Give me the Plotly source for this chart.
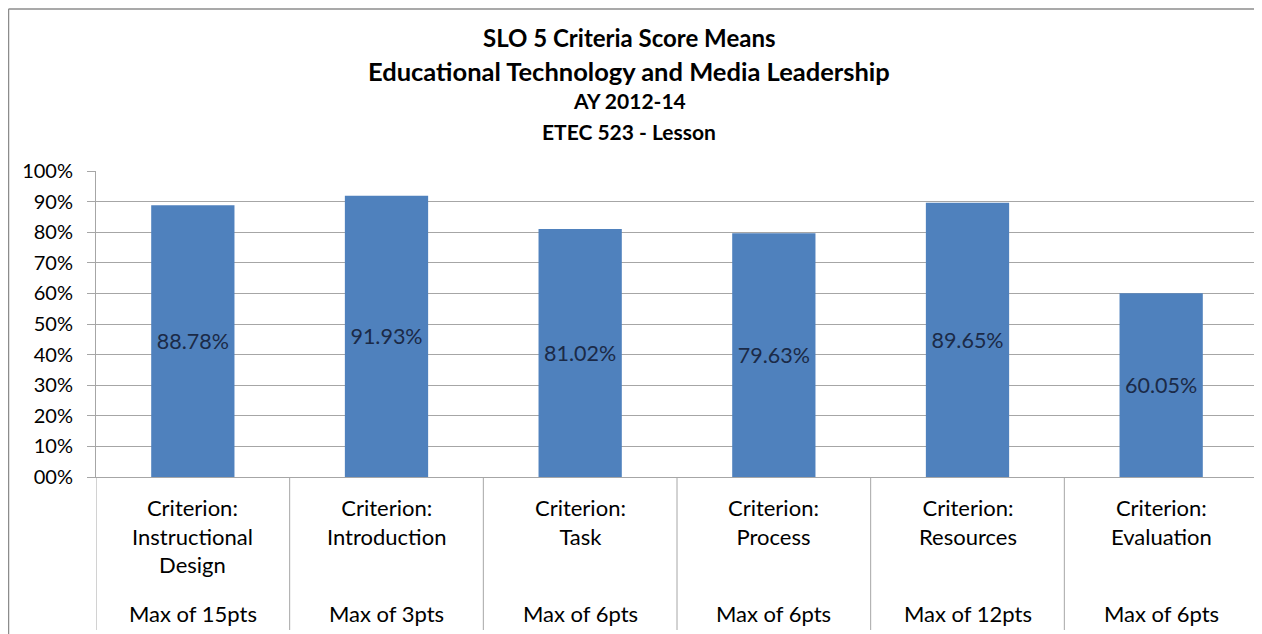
import plotly.graph_objects as go

categories = ["Instructional Design", "Introduction", "Task", "Process", "Resources", "Evaluation"]
criterion_labels = ["Criterion:<br>Instructional<br>Design", "Criterion:<br>Introduction", "Criterion:<br>Task",
                    "Criterion:<br>Process", "Criterion:<br>Resources", "Criterion:<br>Evaluation"]
max_labels = ["Max of 15pts", "Max of 3pts", "Max of 6pts", "Max of 6pts", "Max of 12pts", "Max of 6pts"]
means = [0.8878, 0.9193, 0.8102, 0.7963, 0.8965, 0.6005]
value_labels = ["88.78%", "91.93%", "81.02%", "79.63%", "89.65%", "60.05%"]
tick_vals = [0, 0.1, 0.2, 0.3, 0.4, 0.5, 0.6, 0.7, 0.8, 0.9, 1.0]
tick_text = ["00%", "10%", "20%", "30%", "40%", "50%", "60%", "70%", "80%", "90%", "100%"]
title_lines = ["SLO 5 Criteria Score Means", "Educational Technology and Media Leadership", "AY 2012-14", "ETEC 523 - Lesson"]

FONT = "Lato"
# page body has an 8px margin; figure is sized so the plot area lands at the right place
W, H = 1254, 626
L_IMG, T_IMG = 96, 171          # plot area top-left in page pixels
pw, ph = 1162, 306
L, T = L_IMG - 8, T_IMG - 8
R, B = W - L - pw, H - T - ph


def py(ypx):
    return (T_IMG + ph - ypx) / ph


def px(xpx):
    return (xpx - L_IMG) / pw


fig = go.Figure()
fig.add_trace(go.Bar(
    x=categories, y=means, width=0.43,
    marker=dict(color="#4F81BD", line=dict(width=0)),
    text=value_labels, textposition="inside", insidetextanchor="middle",
    textfont=dict(family=FONT, size=21.5, color="#1B2A47"),
    textangle=0, hoverinfo="skip",
))

annotations = []
title_y_px = [37, 71, 101, 131]
title_sizes = [24, 25.5, 21, 21]
for txt, ypx, sz in zip(title_lines, title_y_px, title_sizes):
    annotations.append(dict(text="<b>%s</b>" % txt, xref="paper", yref="paper",
                            x=px(629), y=py(ypx),
                            xanchor="center", yanchor="middle", showarrow=False,
                            font=dict(family=FONT, size=sz, color="#000000")))
for cat, clab, mlab in zip(categories, criterion_labels, max_labels):
    annotations.append(dict(text=clab, xref="x", yref="paper", x=cat,
                            y=py(491.5), xanchor="center", yanchor="top",
                            showarrow=False, align="center",
                            font=dict(family=FONT, size=22, color="#000000")))
    annotations.append(dict(text=mlab, xref="x", yref="paper", x=cat,
                            y=py(613), xanchor="center", yanchor="middle",
                            showarrow=False,
                            font=dict(family=FONT, size=22, color="#000000")))

shapes = []
for i in range(len(categories) + 1):
    shapes.append(dict(type="line", xref="x", yref="paper", x0=i - 0.5, x1=i - 0.5,
                       y0=0, y1=py(630), line=dict(color="#A6A6A6", width=1)))
shapes.append(dict(type="line", xref="paper", yref="paper", x0=px(8.5), x1=px(8.5),
                   y0=py(9), y1=py(640), line=dict(color="#8C8C8C", width=1.5)))
shapes.append(dict(type="line", xref="paper", yref="paper", x0=px(8.5), x1=px(1270),
                   y0=py(9), y1=py(9), line=dict(color="#8C8C8C", width=1.5)))

fig.update_layout(
    width=W, height=H,
    margin=dict(l=L, r=R, t=T, b=B, pad=0),
    paper_bgcolor="white", plot_bgcolor="white",
    showlegend=False,
    annotations=annotations, shapes=shapes,
)
fig.update_xaxes(showticklabels=False, showgrid=False, zeroline=False,
                 showline=True, linecolor="#A6A6A6", linewidth=1,
                 range=[-0.5, 5.5], ticks="")
fig.update_yaxes(range=[0, 1.0], tickvals=tick_vals, ticktext=tick_text,
                 showgrid=True, gridcolor="#A6A6A6", gridwidth=1,
                 zeroline=False, showline=True, linecolor="#A6A6A6", linewidth=1,
                 ticks="outside", ticklen=8, tickcolor="#A6A6A6",
                 ticklabelstandoff=10,
                 tickfont=dict(family=FONT, size=20, color="#000000"))

fig.write_html("out.html")
